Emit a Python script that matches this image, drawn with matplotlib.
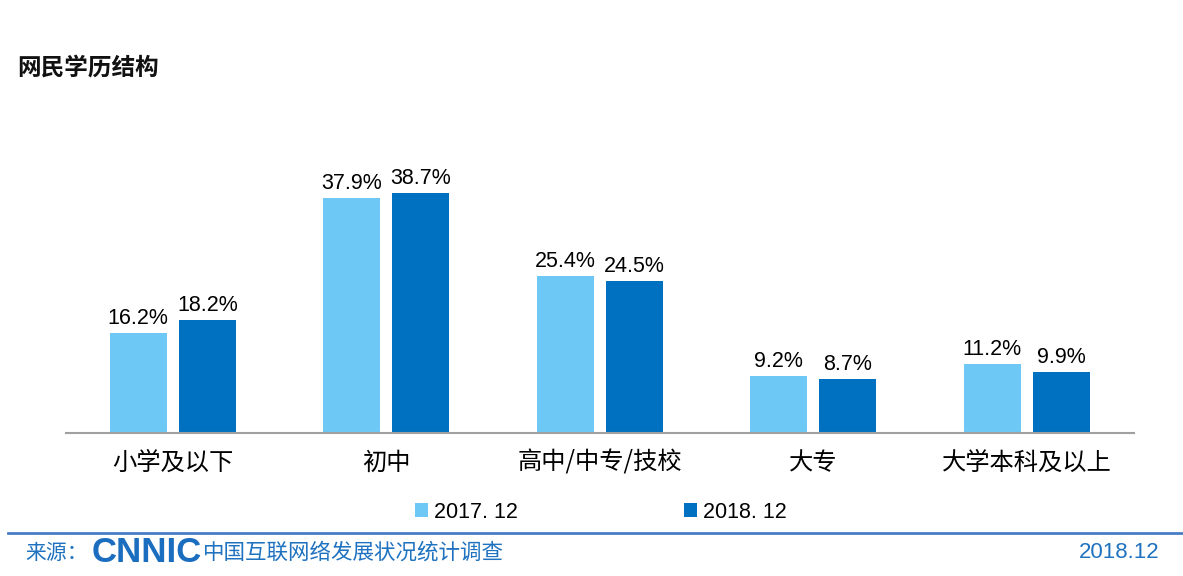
import numpy as np
import matplotlib.pyplot as plt

plt.rcParams['font.family'] = ['Noto Sans CJK SC', 'DejaVu Sans']

# 数据
categories = ['小学及以下', '初中', '高中/中专/技校', '大专', '大学本科及以上']
series_names = ['2017. 12', '2018. 12']
vals_2017 = [16.2, 37.9, 25.4, 9.2, 11.2]
vals_2018 = [18.2, 38.7, 24.5, 8.7, 9.9]

c_light = '#6DC8F5'
c_dark = '#0070C0'
num_font = ['Liberation Sans', 'DejaVu Sans']

fig = plt.figure(figsize=(11.83, 5.76), dpi=100)

ax = fig.add_axes([66 / 1183, 143 / 576, 1067.5 / 1183, 279 / 576])

x = np.arange(len(categories))
w = 0.267
off = 0.1616
b1 = ax.bar(x - off, vals_2017, w, color=c_light, label=series_names[0])
b2 = ax.bar(x + off, vals_2018, w, color=c_dark, label=series_names[1])

for bars, vals in ((b1, vals_2017), (b2, vals_2018)):
    for b, v in zip(bars, vals):
        ax.text(b.get_x() + b.get_width() / 2, v + 0.6, f'{v:.1f}%',
                ha='center', va='bottom', fontsize=15.5, family=num_font)

ax.set_xlim(-0.5, len(categories) - 0.5)
ax.set_ylim(0, 45)
ax.set_yticks([])
ax.set_xticks(x)
ax.set_xticklabels(categories, fontsize=17.5)
ax.tick_params(axis='x', length=0, pad=12)
for s in ['top', 'right', 'left']:
    ax.spines[s].set_visible(False)
ax.spines['bottom'].set_color('#A0A0A0')
ax.spines['bottom'].set_linewidth(1.5)

leg = fig.legend(handles=[b1, b2], labels=series_names, loc='center',
                 bbox_to_anchor=(601 / 1183, 1 - 512 / 576), ncol=2,
                 frameon=False, handlelength=0.6, handleheight=0.6,
                 handletextpad=0.3, columnspacing=7.7,
                 prop={'family': num_font, 'size': 15.5})

fig.text(17 / 1183, 1 - 68 / 576, '网民学历结构', fontsize=17,
         fontweight='bold', va='center', ha='left', color='#111111')

# 底部
fig.add_artist(plt.Line2D([8 / 1183, 1.0], [1 - 533 / 576, 1 - 533 / 576],
                          color='#4A7CC4', lw=2))
fig.text(25 / 1183, 1 - 553 / 576, '来源：', fontsize=15, color='#1F72C0',
         va='center', ha='left')
fig.text(92 / 1183, 1 - 552 / 576, 'CNNIC', fontsize=25, fontweight='bold',
         color='#1A6DBF', va='center', ha='left', family=num_font)
fig.text(203 / 1183, 1 - 553 / 576, '中国互联网络发展状况统计调查', fontsize=15.5,
         color='#1F72C0', va='center', ha='left')
fig.text(1160 / 1183, 1 - 553 / 576, '2018.12', fontsize=16, color='#1F72C0',
         va='center', ha='right', family=num_font)

fig.savefig('out.png', dpi=100)
